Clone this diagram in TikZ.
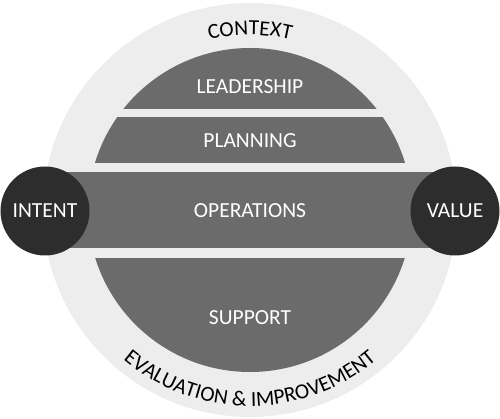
\documentclass[tikz,border=0pt]{standalone}
\usepackage{fontspec}
\setmainfont{Carlito}
\usetikzlibrary{decorations.text}

\definecolor{ringgray}{HTML}{EDEDED}
\definecolor{bandgray}{HTML}{6B6B6B}
\definecolor{endgray}{HTML}{2D2D2D}

\tikzset{
  bandlabel/.style={text=white, font=\fontsize{21.5}{26}\selectfont},
  endpoint/.style={circle, fill=endgray, minimum size=89pt, inner sep=0pt, text=white, font=\fontsize{21.5}{26}\selectfont},
  ringtext/.style={decorate, decoration={text along path, text align=center, text={|\fontsize{21.5}{26}\selectfont|#1}}}
}

\begin{document}
\begin{tikzpicture}[x=1pt,y=1pt]
\useasboundingbox (-250,-209) rectangle (250,210);

\fill[ringgray] (0,0) circle (207);

\begin{scope}
\clip (0,0) circle (162);
\fill[bandgray] (-170,101) rectangle (170,170);
\fill[bandgray] (-170,47) rectangle (170,93);
\fill[bandgray] (-170,-48) rectangle (170,-170);
\end{scope}
\fill[bandgray] (-205,-38) rectangle (205,38);

\node[bandlabel] (leadership) at (0,123) {LEADERSHIP};
\node[bandlabel] (planning) at (0,69) {PLANNING};
\node[bandlabel] (operations) at (0,-1) {OPERATIONS};
\node[bandlabel] (support) at (0,-108) {SUPPORT};

\node[endpoint] (intent) at (-205,-1) {INTENT};
\node[endpoint] (value) at (205,-1) {VALUE};

\path[ringtext={CONTEXT}] (150:175) arc (150:30:175);
\path[ringtext={EVALUATION {\&} IMPROVEMENT}] (200:196) arc (200:340:196);

\end{tikzpicture}
\end{document}
